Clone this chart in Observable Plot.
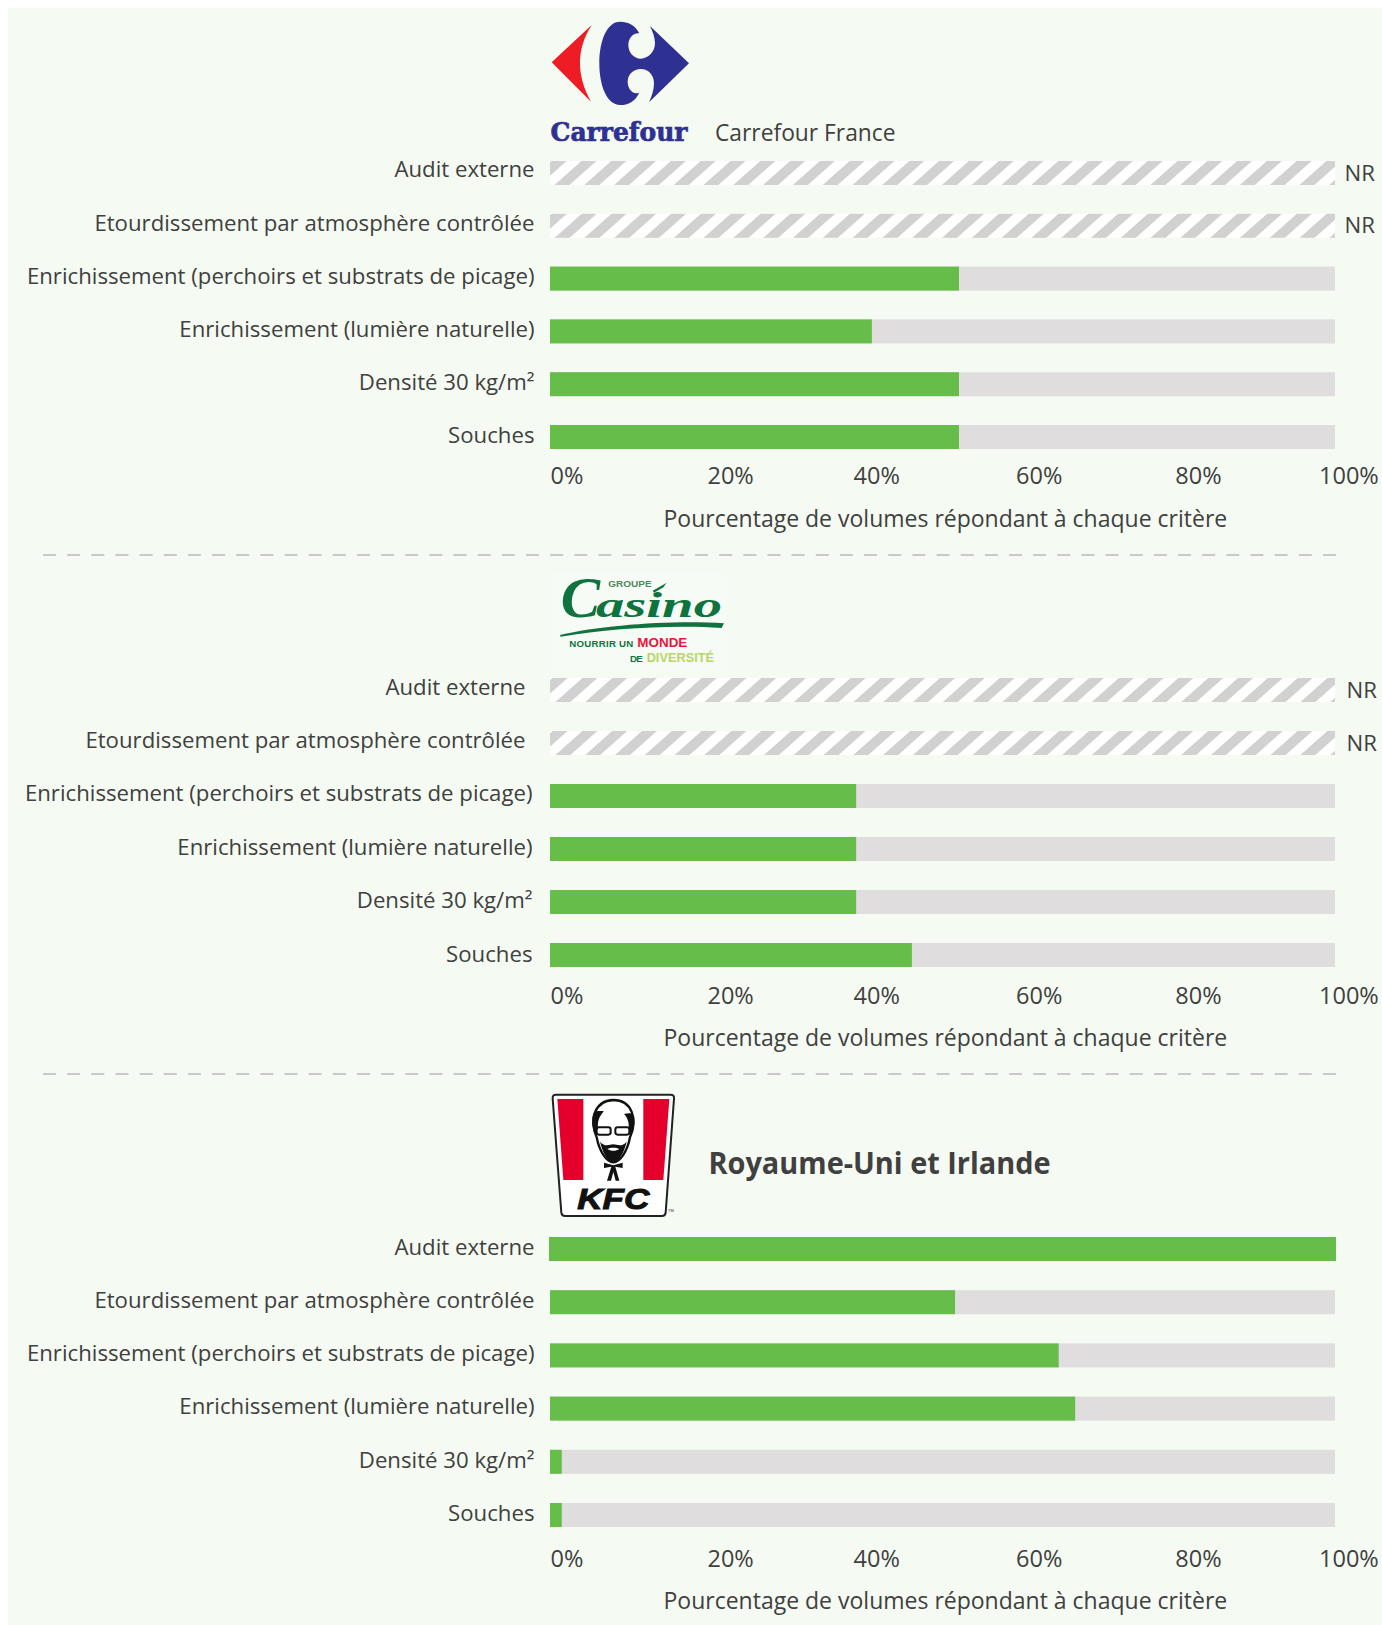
<!DOCTYPE html>
<html lang="fr">
<head>
<meta charset="utf-8">
<title>Pourcentage de volumes répondant à chaque critère</title>
<script src="https://cdn.jsdelivr.net/npm/d3@7"></script>
<script src="https://cdn.jsdelivr.net/npm/@observablehq/plot@0.6"></script>
<style>
html,body{margin:0;padding:0;background:#fff;width:1382px;height:1625px;overflow:hidden}
#panel{position:absolute;left:8px;top:8px;width:1374px;height:1617px;background:#f5fbf2}
#stage{position:absolute;left:0;top:0;width:1382px;height:1625px}
#stage svg{position:absolute;left:0;top:0}
</style>
</head>
<body>
<div id="panel"></div>
<div id="stage">
<svg id="art" width="1382" height="1625" viewBox="0 0 1382 1625" font-family="'Open Sans'">
  <defs>
    <pattern id="hatchA" patternUnits="userSpaceOnUse" width="29.8" height="12" patternTransform="translate(732.8,0) skewX(-48.37)">
      <rect width="29.8" height="12" fill="#ffffff"/>
      <rect width="15" height="12" fill="#d1d1d1"/>
    </pattern>
    <pattern id="hatchB" patternUnits="userSpaceOnUse" width="29.8" height="12" patternTransform="translate(1315.45,0) skewX(-48.37)">
      <rect width="29.8" height="12" fill="#ffffff"/>
      <rect width="15" height="12" fill="#d1d1d1"/>
    </pattern>
  </defs>
  <line x1="43" x2="1336" y1="555" y2="555" stroke="#c9c9c9" stroke-width="2" stroke-dasharray="13 11.15"/>
  <line x1="43" x2="1336" y1="1074" y2="1074" stroke="#c9c9c9" stroke-width="2" stroke-dasharray="13 11.15"/>

  <!-- Carrefour -->
  <g transform="translate(520,0) scale(0.33333)">
    <path fill="#ee1c25" d="M215 75L95 187L213 305C190 265 180 225 180 190C180 150 190 115 215 75Z"/>
    <path fill="#2e3192" d="M358 100C345 75 325 65 300 65C262 65 238 120 238 190C238 260 262 315 300 315C325 315 345 305 358 278C340 285 323 268 323 245C323 222 342 207 362 207C385 207 402 225 402 250C402 270 395 290 387 307L507 190L390 78C398 95 405 112 405 130C405 155 385 176 362 176C342 176 325 158 325 135C325 115 340 97 358 100Z"/>
  </g>
  <text x="550.5" y="141" font-family="'DejaVu Serif'" font-weight="bold" font-size="26" fill="#2e3192" stroke="#2e3192" stroke-width="0.7" textLength="137" lengthAdjust="spacingAndGlyphs">Carrefour</text>
  <text x="715" y="141" font-size="22.8" fill="#404040">Carrefour France</text>

  <!-- Casino -->
  <g transform="translate(520,560) scale(0.33333)">
    <rect x="95" y="40" width="525" height="295" fill="#f7fbf5"/>
    <text x="265" y="80" font-family="'Liberation Sans'" font-weight="bold" font-size="26" fill="#4d8a5f" textLength="130" lengthAdjust="spacingAndGlyphs">GROUPE</text>
    <text x="122" y="172" font-family="'Liberation Serif'" font-weight="bold" font-style="italic" font-size="170" fill="#0f7340" textLength="118" lengthAdjust="spacingAndGlyphs">C</text>
    <text x="228" y="172" font-family="'Liberation Serif'" font-weight="bold" font-style="italic" font-size="105" fill="#0f7340" textLength="378" lengthAdjust="spacingAndGlyphs">asino</text>
    <path fill="#0f7340" d="M398 92L440 68L430 82L402 98Z"/>
    <path fill="#0f7340" d="M120 225C250 195 460 180 612 190L605 204C460 194 270 205 122 230Z"/>
    <text x="148" y="262" font-family="'Liberation Sans'" font-weight="bold" font-size="29" fill="#0f7340" textLength="192" lengthAdjust="spacing">NOURRIR UN</text>
    <text x="352" y="262" font-family="'Liberation Sans'" font-weight="bold" font-size="37" fill="#e8173f" textLength="150" lengthAdjust="spacingAndGlyphs">MONDE</text>
    <text x="330" y="305" font-family="'Liberation Sans'" font-weight="bold" font-size="29" fill="#0f7340" textLength="38" lengthAdjust="spacing">DE</text>
    <text x="380" y="305" font-family="'Liberation Sans'" font-weight="bold" font-size="37" fill="#b7d667" textLength="202" lengthAdjust="spacingAndGlyphs">DIVERSITÉ</text>
  </g>

  <!-- KFC -->
  <g transform="translate(530,1080) scale(0.33333)">
    <path fill="#fff" stroke="#222" stroke-width="6" stroke-linejoin="round" d="M78 44H422Q433 44 432 56L407 398Q406 408 396 408H105Q95 408 94 398L68 56Q67 44 78 44Z"/>
    <path fill="#e4002b" d="M82 57H160V300H100Z"/>
    <path fill="#e4002b" d="M340 57H418L400 300H340Z"/>
    <path fill="#fff" stroke="#111" stroke-width="7" d="M200 172C178 120 192 62 250 60C306 60 324 118 300 172C292 215 270 246 250 247C230 246 208 215 200 172Z"/>
    <path fill="#111" d="M190 100C183 125 188 150 197 166L204 142C202 125 208 108 222 94C208 92 198 92 190 100Z"/>
    <path fill="#111" d="M310 104C316 125 312 150 303 166L296 142C298 128 292 112 282 102C292 100 302 98 310 104Z"/>
    <path fill="#111" d="M210 185C220 225 235 245 250 247C265 245 280 225 290 185C275 203 262 193 250 193C238 193 225 203 210 185Z"/>
    <path fill="#fff" d="M232 207C242 202 258 202 268 207C258 214 242 214 232 207Z"/>
    <g fill="none" stroke="#111" stroke-width="6"><rect x="200" y="142" width="42" height="22" rx="7"/><rect x="256" y="142" width="42" height="22" rx="7"/></g>
    <path fill="#111" d="M222 248L250 256L278 248V264L256 260L268 302H257L250 276L243 302H231L244 260L222 264Z"/>
    <text x="142" y="386" font-family="'Liberation Sans'" font-weight="bold" font-style="italic" font-size="86" fill="#111" stroke="#111" stroke-width="3" textLength="216" lengthAdjust="spacingAndGlyphs">KFC</text>
    <text x="414" y="396" font-family="'Liberation Sans'" font-size="12" fill="#333">TM</text>
  </g>
  <text x="708.5" y="1174" font-size="31" font-weight="bold" fill="#404040" textLength="342" lengthAdjust="spacingAndGlyphs">Royaume-Uni et Irlande</text>
</svg>
</div>
<script>
const criteria = ["Audit externe","Etourdissement par atmosphère contrôlée","Enrichissement (perchoirs et substrats de picage)","Enrichissement (lumière naturelle)","Densité 30 kg/m²","Souches"];
const carrefourValues = [null,null,52.1,41.0,52.1,52.1];
const casinoValues = [null,null,39.0,39.0,39.0,46.1];
const kfcValues = [100,51.6,64.8,66.9,1.5,1.5];
const tickLabels = ["0%","20%","40%","60%","80%","100%"];
const tickPositions = [0,20.0,38.6,59.3,79.6,97.9];
const axisTitle = "Pourcentage de volumes répondant à chaque critère";

const FONT = "'Open Sans'", INK = "#404040";

function panel(values, o){
  const rows = criteria.map((c,i)=>({c, v:values[i]}));
  const bw = 24, H = o.top + 5*o.pitch + bw + 90;
  const pad = (o.pitch-bw)/o.pitch;
  const axes = o.groups.map(g => Plot.axisY(g.ticks,{tickSize:0,tickPadding:g.pad,dy:g.dy,label:null,fontSize:22.2,fill:INK}));
  return Plot.plot({
    width:1382, height:H,
    marginLeft:550, marginRight:47, marginTop:o.top, marginBottom:90,
    style:{background:"transparent",overflow:"visible",fontFamily:FONT,color:INK},
    x:{domain:[0,100],axis:null},
    y:{domain:criteria,axis:null,paddingInner:pad,paddingOuter:0,round:false},
    marks:[
      Plot.barX(rows.filter(d=>d.v!=null),{x1:()=>0,x2:()=>100,y:"c",fill:"#dfddde"}),
      Plot.barX(rows.filter(d=>d.v==null),{x1:()=>0,x2:()=>100,y:"c",fill:o.hatch}),
      Plot.barX(rows.filter(d=>d.v!=null&&d.v<100),{x1:()=>0,x2:"v",y:"c",fill:"#66bd4a"}),
      Plot.barX(rows.filter(d=>d.v===100),{x1:()=>0,x2:"v",y:"c",fill:"#66bd4a",insetLeft:-1,insetRight:-1}),
      Plot.text(rows.filter(d=>d.v==null),{x:()=>100,y:"c",text:()=>"NR",textAnchor:"start",dx:o.nrDx,fontSize:22.2,fill:INK}),
      ...axes,
      Plot.text(tickLabels,{x:(d,i)=>tickPositions[i],text:d=>d,frameAnchor:"bottom",dy:o.tickDy,textAnchor:"start",fontSize:23.5,fill:INK}),
      Plot.text([axisTitle],{x:()=>50.3,text:d=>d,frameAnchor:"bottom",dy:o.titleDy,fontSize:23,fill:INK})
    ]
  });
}
const stage = document.getElementById("stage");
stage.append(panel(carrefourValues,{top:161,pitch:52.8,nrDx:9,tickDy:34.5,titleDy:77.5,hatch:"url(#hatchA)",
  groups:[{ticks:criteria.slice(0,1),pad:16,dy:-4},{ticks:criteria.slice(1),pad:16,dy:-2}]}));
stage.append(panel(casinoValues,{top:678,pitch:53,nrDx:11,tickDy:36.5,titleDy:78.5,hatch:"url(#hatchB)",
  groups:[{ticks:criteria.slice(0,2),pad:25,dy:-3},{ticks:criteria.slice(2,3),pad:18,dy:-3},{ticks:criteria.slice(3,5),pad:18,dy:-2},{ticks:criteria.slice(5),pad:18,dy:-1}]}));
stage.append(panel(kfcValues,{top:1237,pitch:53.2,nrDx:9,tickDy:39,titleDy:81,hatch:"url(#hatchA)",
  groups:[{ticks:criteria,pad:16,dy:-1.8}]}));
</script>
</body>
</html>
